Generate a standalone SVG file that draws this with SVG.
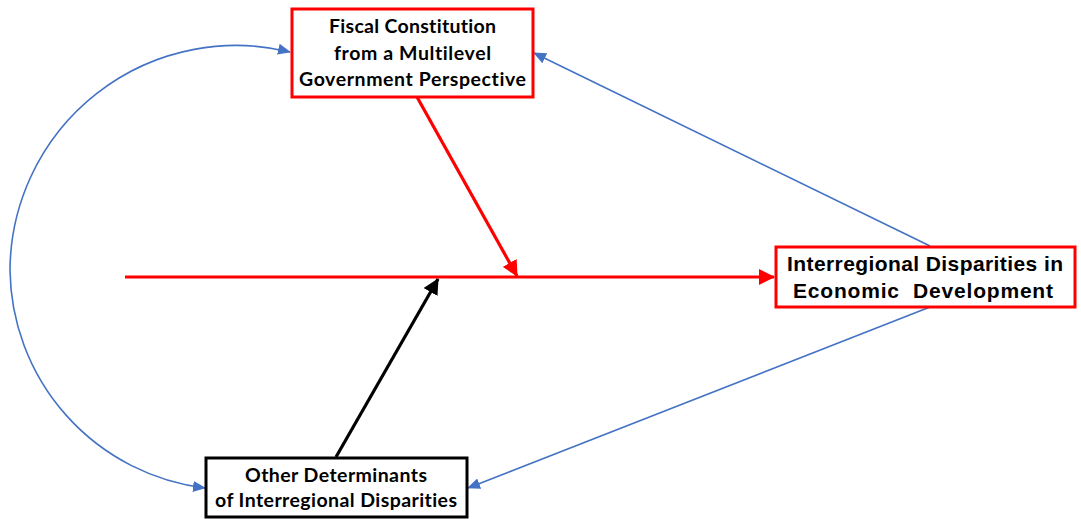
<svg xmlns="http://www.w3.org/2000/svg" width="1081" height="519" viewBox="0 0 1081 519">
  <style>
    .box { fill: #ffffff; stroke-width: 3; }
    .red { stroke: #ff0000; }
    .blk { stroke: #000000; }
    .cal { font-family: Lato, "Open Sans", sans-serif; font-weight: bold; font-size: 19.5px; fill: #000; text-anchor: middle; font-variant-ligatures: none; font-feature-settings: "liga" 0, "clig" 0; }
    .ari { font-family: "Liberation Sans", Arial, sans-serif; font-weight: bold; font-size: 21px; fill: #000; text-anchor: middle; }
    .link-blue { fill: none; stroke: #4472c4; stroke-width: 1.6; }
    .link-red { fill: none; stroke: #ff0000; stroke-width: 3.2; }
    .link-black { fill: none; stroke: #000000; stroke-width: 3.2; }
  </style>
  <defs>
    <marker id="headBlue" viewBox="0 0 13 11" refX="12" refY="5.5" markerWidth="13" markerHeight="11" markerUnits="userSpaceOnUse" orient="auto-start-reverse">
      <path d="M0,0 L13,5.5 L0,11 Z" fill="#4472c4"/>
    </marker>
    <marker id="headRed" viewBox="0 0 16 16" refX="15" refY="8" markerWidth="16" markerHeight="16" markerUnits="userSpaceOnUse" orient="auto">
      <path d="M0,0 L16,8 L0,16 Z" fill="#ff0000"/>
    </marker>
    <marker id="headBlack" viewBox="0 0 16 16" refX="15" refY="8" markerWidth="16" markerHeight="16" markerUnits="userSpaceOnUse" orient="auto">
      <path d="M0,0 L16,8 L0,16 Z" fill="#000000"/>
    </marker>
  </defs>

  <rect width="1081" height="519" fill="#ffffff"/>

  <!-- connectors -->
  <g id="connectors">
    <!-- main causal line into the outcome box -->
    <line class="link-red" x1="125" y1="277" x2="774" y2="277" marker-end="url(#headRed)"/>
    <!-- fiscal constitution acting on the main line -->
    <line class="link-red" x1="417" y1="97" x2="517" y2="276" marker-end="url(#headRed)"/>
    <!-- other determinants acting on the main line -->
    <line class="link-black" x1="336" y1="457" x2="438" y2="279" marker-end="url(#headBlack)"/>
    <!-- feedback from outcome to fiscal constitution -->
    <line class="link-blue" x1="930" y1="246" x2="534" y2="53" marker-end="url(#headBlue)"/>
    <!-- feedback from outcome to other determinants -->
    <line class="link-blue" x1="930" y1="307" x2="468" y2="488" marker-end="url(#headBlue)"/>
    <!-- two-way link between the two drivers -->
    <path class="link-blue" d="M205,488 A 222 222 0 0 1 10,270 A 226 226 0 0 1 290,52" marker-start="url(#headBlue)" marker-end="url(#headBlue)"/>
  </g>

  <g id="fiscal-constitution">
    <rect class="box red" x="292" y="9" width="241" height="88"/>
    <text class="cal" x="412.5" y="33" textLength="167">Fiscal Constitution</text>
    <text class="cal" x="412.5" y="60" textLength="157">from a Multilevel</text>
    <text class="cal" x="412.5" y="86" textLength="227">Government Perspective</text>
  </g>

  <g id="interregional-disparities">
    <rect class="box red" x="776" y="247" width="299" height="60"/>
    <text class="ari" x="925" y="271" textLength="276">Interregional Disparities in</text>
    <text class="ari" x="923" y="298" textLength="260" xml:space="preserve">Economic  Development</text>
  </g>

  <g id="other-determinants">
    <rect class="box blk" x="206" y="458" width="261" height="59"/>
    <text class="cal" x="336" y="482" textLength="182">Other Determinants</text>
    <text class="cal" x="336" y="507" textLength="242">of Interregional Disparities</text>
  </g>
</svg>
